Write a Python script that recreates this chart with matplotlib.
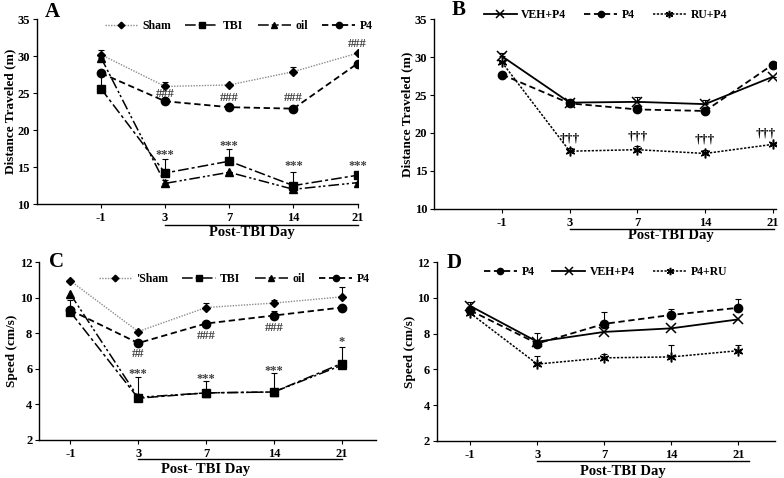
import numpy as np
import matplotlib
matplotlib.use('Agg')
import matplotlib.pyplot as plt

plt.rcParams['font.family'] = ['Liberation Serif', 'DejaVu Serif']
plt.rcParams['font.weight'] = 'bold'

#---- data ----
days = ['-1', '3', '7', '14', '21']
x = np.arange(len(days))

# panel A - distance (m)
a_sham = [30.2, 25.9, 26.1, 27.9, 30.4]
a_sham_err = [0.6, 0.6, 0.0, 0.6, 0.0]
a_tbi = [25.6, 14.2, 15.8, 12.5, 13.9]
a_tbi_err = [2.0, 1.9, 1.7, 1.9, 0.0]
a_oil = [29.8, 12.8, 14.3, 12.0, 12.9]
a_oil_err = [0.4, 0.5, 0.0, 0.0, 0.0]
a_p4 = [27.7, 23.9, 23.1, 22.9, 29.0]

# panel B - distance (m)
b_veh = [30.1, 24.0, 24.1, 23.8, 27.4]
b_veh_err = [0.4, 0.3, 0.6, 0.5, 0.0]
b_p4 = [27.7, 23.9, 23.1, 22.9, 29.0]
b_ru = [29.3, 17.6, 17.8, 17.3, 18.5]
b_ru_err = [0.0, 0.4, 0.5, 0.5, 0.2]

# panel C - speed (cm/s)
c_sham = [10.95, 8.1, 9.45, 9.7, 10.05]
c_sham_err = [0.0, 0.0, 0.25, 0.2, 0.55]
c_tbi = [9.2, 4.35, 4.65, 4.7, 6.3]
c_tbi_err = [0.0, 1.2, 0.65, 1.05, 0.95]
c_oil = [10.2, 4.4, 4.65, 4.7, 6.2]
c_p4 = [9.3, 7.45, 8.55, 9.0, 9.45]
c_p4_err = [0.55, 0.0, 0.0, 0.25, 0.0]

# panel D - speed (cm/s)
d_p4 = [9.3, 7.45, 8.55, 9.05, 9.45]
d_p4_err = [0.5, 0.6, 0.65, 0.35, 0.5]
d_veh = [9.55, 7.55, 8.1, 8.3, 8.8]
d_ru = [9.15, 6.3, 6.65, 6.7, 7.05]
d_ru_err = [0.0, 0.45, 0.2, 0.65, 0.3]

# annotations (text, x position, y)
a_marks = [('###', 4, 31.6), ('###', 1, 24.9), ('###', 2, 24.3), ('###', 3, 24.3),
           ('***', 1, 16.6), ('***', 2, 17.9), ('***', 3, 15.1), ('***', 4, 15.1)]
b_marks = [('†††', 1, 19.3), ('†††', 2, 19.5), ('†††', 3, 19.2), ('†††', 3.9, 19.9)]
c_marks = [('##', 1, 6.85), ('###', 2, 7.85), ('###', 3, 8.3),
           ('***', 1, 5.7), ('***', 2, 5.45), ('***', 3, 5.9), ('*', 4, 7.5)]

sham_ls = (0, (1, 1))
tbi_ls = (0, (7, 2, 2, 2))
oil_ls = (0, (7, 2, 1.5, 1.5, 1.5, 2))
p4_ls = (0, (3.5, 2))
ru_ls = (0, (1.5, 1))
ast = (6, 2, 0)

fig = plt.figure(figsize=(7.84, 4.78), dpi=100)
axA = fig.add_axes([0.047, 0.573, 0.409, 0.387])
axB = fig.add_axes([0.554, 0.563, 0.436, 0.397])
axC = fig.add_axes([0.050, 0.0795, 0.429, 0.372])
axD = fig.add_axes([0.557, 0.0775, 0.431, 0.374])


def style(ax, ylim, yticks, xlim, ylabel):
    ax.set_xlim(xlim)
    ax.set_ylim(ylim)
    ax.set_yticks(yticks)
    ax.set_xticks(x)
    ax.set_xticklabels(days)
    for s in ['top', 'right']:
        ax.spines[s].set_visible(False)
    for s in ['left', 'bottom']:
        ax.spines[s].set_linewidth(1.0)
    ax.tick_params(labelsize=9, length=3, width=0.8)
    ax.tick_params(axis='y', pad=2)
    ax.tick_params(axis='x', pad=3)
    ax.set_ylabel(ylabel, fontsize=9.5, fontweight='bold', labelpad=1)


def errs(ax, vals, err):
    ax.errorbar(x, vals, yerr=[np.zeros(len(err)), err], fmt='none', ecolor='black',
                elinewidth=0.8, capsize=2.5, capthick=0.8, zorder=2)


def underline(ax, x0, x1, yl, lx, ly, label):
    tr = ax.get_xaxis_transform()
    ax.plot([x0, x1], [yl, yl], color='black', lw=1.0, transform=tr, clip_on=False)
    ax.text(lx, ly, label, transform=tr, ha='center', va='center', fontsize=10.5, fontweight='bold')


leg_kw = dict(frameon=False, fontsize=8.5, handlelength=2.8, handletextpad=0.4, markerscale=0.75)

#---- A ----
ax = axA
style(ax, (10, 35), range(10, 36, 5), (-1, 4), 'Distance Traveled (m)')
errs(ax, a_sham, a_sham_err)
errs(ax, a_tbi, a_tbi_err)
errs(ax, a_oil, a_oil_err)
ax.plot(x, a_sham, color='0.55', ls=sham_ls, lw=1.0, marker='D', ms=4.5, mfc='black', mec='black', label='Sham')
ax.plot(x, a_tbi, color='black', ls=tbi_ls, lw=1.1, marker='s', ms=6, label='TBI')
ax.plot(x, a_oil, color='black', ls=oil_ls, lw=1.1, marker='^', ms=6, label='oil')
ax.plot(x, a_p4, color='black', ls=p4_ls, lw=1.3, marker='o', ms=6, label='P4')
for t, i, y in a_marks:
    ax.text(i, y, t, ha='center', va='center', fontsize=9, color='0.25')
ax.legend(loc='upper center', bbox_to_anchor=(0.63, 1.05), ncol=4, columnspacing=1.2, **leg_kw)
ax.text(-0.88, 35.3, 'A', fontsize=15, fontweight='bold')
underline(ax, 1, 4, -0.114, 2.35, -0.155, 'Post-TBI Day')

#---- B ----
ax = axB
style(ax, (10, 35), range(10, 36, 5), (-1, 4.05), 'Distance Traveled (m)')
errs(ax, b_veh, b_veh_err)
errs(ax, b_ru, b_ru_err)
ax.plot(x, b_veh, color='black', ls='-', lw=1.3, marker='x', ms=7, mew=1.1, label='VEH+P4')
ax.plot(x, b_p4, color='black', ls=p4_ls, lw=1.3, marker='o', ms=6, label='P4')
ax.plot(x, b_ru, color='black', ls=ru_ls, lw=1.1, marker=ast, ms=7, mew=1.1, label='RU+P4')
for t, i, y in b_marks:
    ax.text(i, y, t, ha='center', va='center', fontsize=9.5)
ax.legend(loc='upper center', bbox_to_anchor=(0.5, 1.11), ncol=3, columnspacing=1.5, **leg_kw)
ax.text(-0.75, 35.5, 'B', fontsize=15, fontweight='bold')
underline(ax, 1, 4.02, -0.105, 2.5, -0.14, 'Post-TBI Day')

#---- C ----
ax = axC
style(ax, (2, 12), range(2, 13, 2), (-0.46, 4.5), 'Speed (cm/s)')
errs(ax, c_sham, c_sham_err)
errs(ax, c_tbi, c_tbi_err)
errs(ax, c_p4, c_p4_err)
ax.plot(x, c_sham, color='0.55', ls=sham_ls, lw=1.0, marker='D', ms=4.5, mfc='black', mec='black', label="'Sham")
ax.plot(x, c_tbi, color='black', ls=tbi_ls, lw=1.1, marker='s', ms=6, label='TBI')
ax.plot(x, c_oil, color='black', ls=oil_ls, lw=1.1, marker='^', ms=6, label='oil')
ax.plot(x, c_p4, color='black', ls=p4_ls, lw=1.3, marker='o', ms=6, label='P4')
for t, i, y in c_marks:
    ax.text(i, y, t, ha='center', va='center', fontsize=9, color='0.25')
ax.legend(loc='upper center', bbox_to_anchor=(0.58, 1.0), ncol=4, columnspacing=1.2, **leg_kw)
ax.text(-0.32, 11.75, 'C', fontsize=15, fontweight='bold')
underline(ax, 1, 4, -0.107, 2.0, -0.165, 'Post- TBI Day')

#---- D ----
ax = axD
style(ax, (2, 12), range(2, 13, 2), (-0.5, 4.54), 'Speed (cm/s)')
errs(ax, d_p4, d_p4_err)
errs(ax, d_ru, d_ru_err)
ax.plot(x, d_p4, color='black', ls=p4_ls, lw=1.3, marker='o', ms=6, label='P4')
ax.plot(x, d_veh, color='black', ls='-', lw=1.3, marker='x', ms=7, mew=1.1, label='VEH+P4')
ax.plot(x, d_ru, color='black', ls=ru_ls, lw=1.1, marker=ast, ms=7, mew=1.1, label='P4+RU')
ax.legend(loc='upper center', bbox_to_anchor=(0.5, 1.04), ncol=3, columnspacing=1.5, **leg_kw)
ax.text(-0.35, 11.7, 'D', fontsize=15, fontweight='bold')
underline(ax, 1, 4.16, -0.112, 2.27, -0.17, 'Post-TBI Day')

fig.savefig('out.png', dpi=100)
